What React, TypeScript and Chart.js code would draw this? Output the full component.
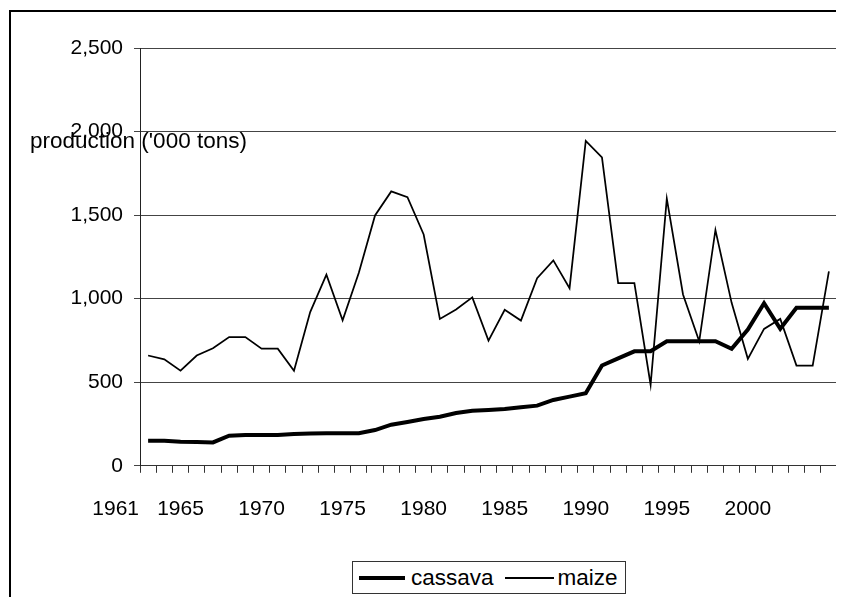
import React, { useEffect, useRef } from 'react';
import { Chart, registerables } from 'chart.js';

Chart.register(...registerables);

const years = [
  1963, 1964, 1965, 1966, 1967, 1968, 1969, 1970, 1971, 1972,
  1973, 1974, 1975, 1976, 1977, 1978, 1979, 1980, 1981, 1982,
  1983, 1984, 1985, 1986, 1987, 1988, 1989, 1990, 1991, 1992,
  1993, 1994, 1995, 1996, 1997, 1998, 1999, 2000, 2001, 2002,
  2003, 2004, 2005,
];

const cassava = [
  150, 150, 144, 142, 140, 180, 184, 184, 184, 190,
  194, 195, 195, 195, 214, 246, 262, 280, 294, 316,
  330, 334, 340, 350, 360, 394, 414, 434, 600, 643,
  685, 685, 745, 745, 745, 745, 700, 815, 973, 820,
  945, 945, 945,
];

const maize = [
  660, 637, 569, 660, 703, 770, 770, 701, 701, 569,
  920, 1144, 870, 1155, 1498, 1642, 1607, 1384, 879, 935,
  1008, 749, 933, 869, 1123, 1229, 1063, 1944, 1845, 1093,
  1093, 485, 1599, 1025, 745, 1411, 975, 640, 819, 879,
  600, 600, 1163,
];

const xLabelYears = [1961, 1965, 1970, 1975, 1980, 1985, 1990, 1995, 2000];
const yTickValues = [0, 500, 1000, 1500, 2000, 2500];
const yTitle = "production ('000 tons)";
const seriesNames = ['cassava', 'maize'];

const FONT = '"Liberation Sans", Arial, Helvetica, sans-serif';

export default function App() {
  const ref = useRef<HTMLCanvasElement>(null);

  useEffect(() => {
    document.documentElement.style.overflow = 'hidden';
    document.body.style.overflow = 'hidden';
    const canvas = ref.current;
    if (!canvas) return;
    const minX = years[0] - 0.5;
    const maxX = years[years.length - 1] + 0.5;
    const boundaries: number[] = [];
    for (let i = 0; i <= years.length; i++) boundaries.push(minX + i);

    const titlePlugin = {
      id: 'yTitleText',
      afterDraw(chart: any) {
        const c = chart.ctx;
        c.save();
        c.font = `22.5px ${FONT}`;
        c.fillStyle = '#000';
        c.textAlign = 'left';
        c.textBaseline = 'alphabetic';
        c.fillText(yTitle, 22, 140);
        c.restore();
      },
    };

    const chart = new Chart(canvas, {
      type: 'line',
      data: {
        datasets: [
          {
            label: seriesNames[0],
            data: years.map((y, i) => ({ x: y, y: cassava[i] })),
            borderColor: '#000',
            backgroundColor: '#000',
            borderWidth: 4,
            pointRadius: 0,
            tension: 0,
            xAxisID: 'x',
            yAxisID: 'y',
          },
          {
            label: seriesNames[1],
            data: years.map((y, i) => ({ x: y, y: maize[i] })),
            borderColor: '#000',
            backgroundColor: '#000',
            borderWidth: 1.75,
            pointRadius: 0,
            tension: 0,
            xAxisID: 'x',
            yAxisID: 'y',
          },
        ],
      },
      options: {
        responsive: false,
        animation: false,
        layout: { padding: { left: 0, top: 40, right: 7, bottom: 51 } },
        plugins: { legend: { display: false }, tooltip: { enabled: false } },
        scales: {
          x: {
            type: 'linear',
            position: 'bottom',
            weight: 0,
            min: minX,
            max: maxX,
            afterBuildTicks: (s: any) => {
              s.ticks = boundaries.map((v) => ({ value: v }));
            },
            ticks: { display: false },
            grid: {
              display: true,
              drawOnChartArea: false,
              drawTicks: true,
              tickLength: 7,
              color: '#333',
              lineWidth: 1,
            },
            border: { display: true, color: '#333', width: 1 },
          },
          x2: {
            type: 'linear',
            position: 'bottom',
            weight: 1,
            min: minX,
            max: maxX,
            afterBuildTicks: (s: any) => {
              s.ticks = xLabelYears.map((v) => ({ value: v }));
            },
            ticks: {
              autoSkip: false,
              maxRotation: 0,
              minRotation: 0,
              padding: 24,
              color: '#000',
              font: { size: 21, family: FONT },
              callback: (v: any) => String(v),
            },
            grid: { display: false, drawTicks: false },
            border: { display: false },
          },
          y: {
            type: 'linear',
            position: 'left',
            min: 0,
            max: 2500,
            afterBuildTicks: (s: any) => {
              s.ticks = yTickValues.map((v) => ({ value: v }));
            },
            afterFit: (s: any) => {
              s.width = 132;
            },
            ticks: {
              padding: 11,
              color: '#000',
              font: { size: 21, family: FONT },
              callback: (v: any) => Number(v).toLocaleString('en-US'),
            },
            grid: { color: '#444', lineWidth: 1, drawTicks: true, tickLength: 6 },
            border: { display: true, color: '#222', width: 1 },
          },
          yR: {
            type: 'linear',
            position: 'right',
            min: 0,
            max: 2500,
            afterFit: (s: any) => {
              s.width = 0;
            },
            ticks: { display: false },
            grid: { display: false, drawTicks: false },
            border: { display: true, color: '#666', width: 1 },
          },
        },
      } as any,
      plugins: [titlePlugin],
    });

    return () => chart.destroy();
  }, []);

  const legendText: React.CSSProperties = {
    font: `22.5px ${FONT}`,
    color: '#000',
    lineHeight: '26px',
    whiteSpace: 'nowrap',
  };

  return (
    <div style={{ position: 'relative', width: 836, height: 589, overflow: 'hidden', background: '#fff' }}>
      <div
        style={{
          position: 'absolute',
          left: 1,
          top: 2,
          width: 1000,
          height: 1000,
          borderTop: '2px solid #000',
          borderLeft: '2px solid #000',
          boxSizing: 'border-box',
        }}
      />
      <canvas ref={ref} width={836} height={589} style={{ position: 'absolute', left: 0, top: 0 }} />
      <div
        style={{
          position: 'absolute',
          left: 344,
          top: 553,
          width: 274,
          height: 33,
          border: '1px solid #333',
          boxSizing: 'border-box',
          display: 'flex',
          alignItems: 'center',
          paddingLeft: 6,
          background: '#fff',
        }}
      >
        <span style={{ display: 'inline-block', width: 46, height: 4, background: '#000', marginRight: 6 }} />
        <span style={legendText}>{seriesNames[0]}</span>
        <span style={{ display: 'inline-block', width: 49, height: 2, background: '#000', marginLeft: 11, marginRight: 4 }} />
        <span style={legendText}>{seriesNames[1]}</span>
      </div>
    </div>
  );
}
